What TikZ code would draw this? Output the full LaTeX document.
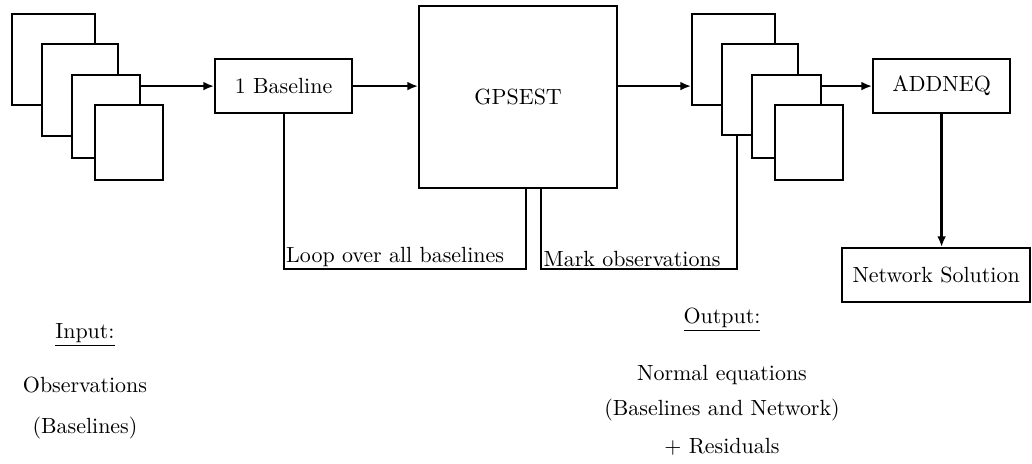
\documentclass[tikz,border=0pt]{standalone}
\usepackage{amsmath}
\usetikzlibrary{arrows.meta, positioning, calc}

\begin{document}
\begin{tikzpicture}[
    x=0.016cm, y=-0.016cm,
    >={Latex[length=1.7mm, width=1.4mm]},
    block/.style={rectangle, draw, fill=white, line width=1pt, anchor=north west, inner sep=0pt, align=center},
    sheet/.style={rectangle, draw, fill=white, line width=1pt, anchor=north west, inner sep=0pt},
    arrow/.style={->, line width=0.9pt},
    loopline/.style={line width=0.9pt},
    label/.style={inner sep=1pt}
]

\useasboundingbox (0,0) rectangle (1032,463);

% Input files (stacked)
\foreach \i/\x/\y/\w/\h in {1/11/13/83/91, 2/41/43/76/92, 3/71/74/68/83, 4/94/104/68/75} {
    \node[sheet, minimum width=\w*0.016cm, minimum height=\h*0.016cm] (in\i) at (\x, \y) {};
}

% Processing steps
\node[block, minimum width=137*0.016cm, minimum height=54*0.016cm] (base) at (214, 58) {1 Baseline};
\node[block, minimum width=198*0.016cm, minimum height=182*0.016cm] (gps) at (418, 5) {GPSEST};

% Output files (stacked)
\foreach \i/\x/\y/\w/\h in {1/691/13/83/91, 2/721/43/76/91, 3/751/74/69/83, 4/774/104/68/75} {
    \node[sheet, minimum width=\w*0.016cm, minimum height=\h*0.016cm] (out\i) at (\x, \y) {};
}

\node[block, minimum width=137*0.016cm, minimum height=54*0.016cm] (addneq) at (872, 58) {ADDNEQ};
\node[block, minimum width=188*0.016cm, minimum height=54*0.016cm] (net) at (841, 247) {Network Solution};

% Arrows
\draw[arrow] (in3.east |- base.west) -- (base.west);
\draw[arrow] (base.east) -- (gps.west |- base.east);
\draw[arrow] (gps.east |- base.east) -- (out1.west |- base.east);
\draw[arrow] (out3.east |- addneq.west) -- (addneq.west);
\draw[arrow, line width=1.3pt] (addneq.south) -- (addneq.south |- net.north);

% Loop back lines
\coordinate (loopbot) at (0, 269);
\coordinate (loopin) at ($(gps.south)+(8,0)$);
\coordinate (markout) at ($(gps.south)+(23,0)$);
\coordinate (markin) at ($(out2.south)+(-23,0)$);
\draw[loopline] (base.south) |- (loopin |- loopbot) -- (loopin);
\draw[loopline] (markout) |- (markin |- loopbot) -- (markin);
\node[label, anchor=south west] (looptext) at (base.south |- loopbot) {Loop over all baselines};
\node[label, anchor=south west] (marktext) at (markout |- loopbot) {Mark observations};

% Input text
\node (input) at (85, 335) {\underline{Input:}};
\node (obs) at (85, 385) {Observations};
\node (obsb) at (85, 428) {(Baselines)};

% Output text
\node (output) at (722, 320) {\underline{Output:}};
\node (neq) at (722, 375) {Normal equations};
\node (neqb) at (722, 410) {(Baselines and Network)};
\node (resid) at (722, 447) {$+$ Residuals};

\end{tikzpicture}
\end{document}
